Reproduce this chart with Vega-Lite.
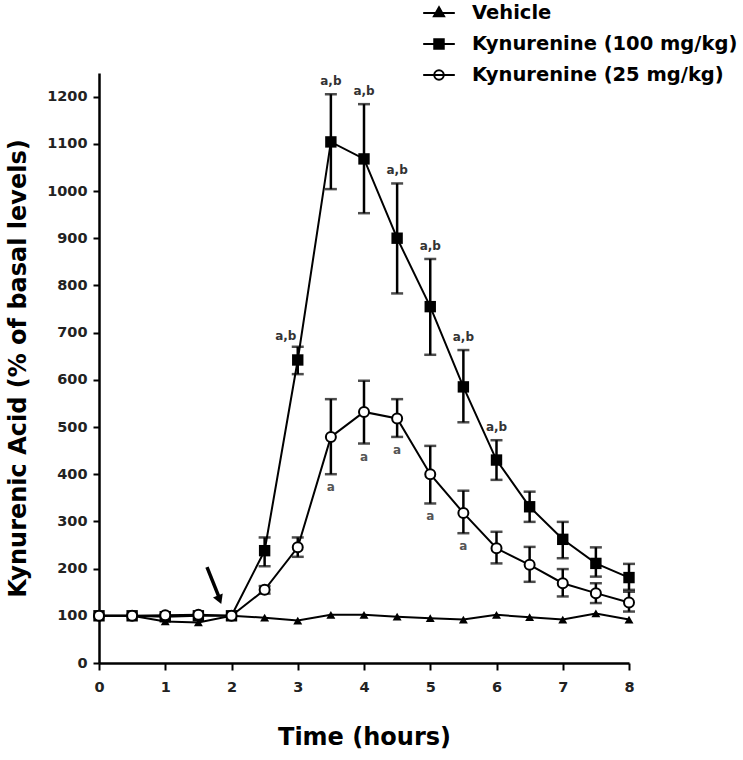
{
  "$schema": "https://vega.github.io/schema/vega-lite/v6.json",
  "width": 530,
  "height": 590,
  "autosize": {"type": "none"},
  "padding": {"left": 99, "top": 73, "right": 114, "bottom": 97},
  "background": "white",
  "config": {
    "view": {"stroke": null},
    "axis": {
      "grid": false,
      "domainColor": "black",
      "domainWidth": 2.5,
      "tickColor": "black",
      "tickWidth": 2,
      "labelFont": "DejaVu Sans",
      "labelFontWeight": "bold",
      "labelFontSize": 14.5,
      "labelColor": "#222",
      "titleFont": "DejaVu Sans",
      "titleFontWeight": "bold",
      "titleFontSize": 24,
      "titleColor": "black"
    },
    "legend": {
      "orient": "none", "legendX": 323, "legendY": -77, "title": null,
      "labelFont": "DejaVu Sans", "labelFontSize": 19.5, "labelFontWeight": "bold", "labelColor": "black",
      "labelLimit": 400,
      "symbolSize": 1000, "symbolStrokeWidth": 2, "symbolStrokeColor": "black",
      "rowPadding": 4, "labelOffset": 16, "padding": 0
    }
  },
  "datasets": {
    "main": [
      {"series": "Vehicle", "t": 0, "v": 100},
      {"series": "Vehicle", "t": 0.5, "v": 100},
      {"series": "Vehicle", "t": 1, "v": 88},
      {"series": "Vehicle", "t": 1.5, "v": 86},
      {"series": "Vehicle", "t": 2, "v": 100},
      {"series": "Vehicle", "t": 2.5, "v": 96},
      {"series": "Vehicle", "t": 3, "v": 90},
      {"series": "Vehicle", "t": 3.5, "v": 102},
      {"series": "Vehicle", "t": 4, "v": 102},
      {"series": "Vehicle", "t": 4.5, "v": 98},
      {"series": "Vehicle", "t": 5, "v": 95},
      {"series": "Vehicle", "t": 5.5, "v": 92},
      {"series": "Vehicle", "t": 6, "v": 102},
      {"series": "Vehicle", "t": 6.5, "v": 97},
      {"series": "Vehicle", "t": 7, "v": 92},
      {"series": "Vehicle", "t": 7.5, "v": 105},
      {"series": "Vehicle", "t": 8, "v": 92},
      {"series": "Kynurenine (100 mg/kg)", "t": 0, "v": 100},
      {"series": "Kynurenine (100 mg/kg)", "t": 0.5, "v": 100},
      {"series": "Kynurenine (100 mg/kg)", "t": 1, "v": 98},
      {"series": "Kynurenine (100 mg/kg)", "t": 1.5, "v": 100},
      {"series": "Kynurenine (100 mg/kg)", "t": 2, "v": 100},
      {"series": "Kynurenine (100 mg/kg)", "t": 2.5, "v": 238, "lo": 205, "hi": 266},
      {"series": "Kynurenine (100 mg/kg)", "t": 3, "v": 642, "lo": 612, "hi": 670, "sig": "a,b"},
      {"series": "Kynurenine (100 mg/kg)", "t": 3.5, "v": 1104, "lo": 1004, "hi": 1205, "sig": "a,b"},
      {"series": "Kynurenine (100 mg/kg)", "t": 4, "v": 1068, "lo": 953, "hi": 1184, "sig": "a,b"},
      {"series": "Kynurenine (100 mg/kg)", "t": 4.5, "v": 900, "lo": 783, "hi": 1016, "sig": "a,b"},
      {"series": "Kynurenine (100 mg/kg)", "t": 5, "v": 755, "lo": 653, "hi": 856, "sig": "a,b"},
      {"series": "Kynurenine (100 mg/kg)", "t": 5.5, "v": 585, "lo": 510, "hi": 663, "sig": "a,b"},
      {"series": "Kynurenine (100 mg/kg)", "t": 6, "v": 430, "lo": 388, "hi": 472, "sig": "a,b"},
      {"series": "Kynurenine (100 mg/kg)", "t": 6.5, "v": 331, "lo": 299, "hi": 363},
      {"series": "Kynurenine (100 mg/kg)", "t": 7, "v": 262, "lo": 222, "hi": 299},
      {"series": "Kynurenine (100 mg/kg)", "t": 7.5, "v": 211, "lo": 183, "hi": 245},
      {"series": "Kynurenine (100 mg/kg)", "t": 8, "v": 181, "lo": 155, "hi": 210},
      {"series": "Kynurenine (25 mg/kg)", "t": 0, "v": 100},
      {"series": "Kynurenine (25 mg/kg)", "t": 0.5, "v": 100},
      {"series": "Kynurenine (25 mg/kg)", "t": 1, "v": 101},
      {"series": "Kynurenine (25 mg/kg)", "t": 1.5, "v": 102},
      {"series": "Kynurenine (25 mg/kg)", "t": 2, "v": 100},
      {"series": "Kynurenine (25 mg/kg)", "t": 2.5, "v": 155, "lo": 147, "hi": 163},
      {"series": "Kynurenine (25 mg/kg)", "t": 3, "v": 245, "lo": 225, "hi": 266},
      {"series": "Kynurenine (25 mg/kg)", "t": 3.5, "v": 479, "lo": 400, "hi": 559, "sig": "a"},
      {"series": "Kynurenine (25 mg/kg)", "t": 4, "v": 532, "lo": 465, "hi": 598, "sig": "a"},
      {"series": "Kynurenine (25 mg/kg)", "t": 4.5, "v": 518, "lo": 479, "hi": 559, "sig": "a"},
      {"series": "Kynurenine (25 mg/kg)", "t": 5, "v": 400, "lo": 338, "hi": 460, "sig": "a"},
      {"series": "Kynurenine (25 mg/kg)", "t": 5.5, "v": 318, "lo": 275, "hi": 365, "sig": "a"},
      {"series": "Kynurenine (25 mg/kg)", "t": 6, "v": 243, "lo": 211, "hi": 278},
      {"series": "Kynurenine (25 mg/kg)", "t": 6.5, "v": 208, "lo": 172, "hi": 246},
      {"series": "Kynurenine (25 mg/kg)", "t": 7, "v": 169, "lo": 141, "hi": 199},
      {"series": "Kynurenine (25 mg/kg)", "t": 7.5, "v": 148, "lo": 127, "hi": 169},
      {"series": "Kynurenine (25 mg/kg)", "t": 8, "v": 128, "lo": 109, "hi": 151}
    ],
    "arrow": [
      {"t": 1.63, "v": 203, "t2": 1.81, "v2": 140, "tip_t": 1.82, "tip_v": 134}
    ]
  },
  "layer": [
    {
      "data": {"name": "main"},
      "transform": [{"filter": "isValid(datum.lo)"}],
      "mark": {"type": "rule", "color": "black", "strokeWidth": 2.5},
      "encoding": {
        "x": {
          "field": "t", "type": "quantitative",
          "scale": {"domain": [0, 8], "nice": false, "zero": false},
          "axis": {
            "title": "Time (hours)",
            "format": "d",
            "values": [0, 0.5, 1, 1.5, 2, 2.5, 3, 3.5, 4, 4.5, 5, 5.5, 6, 6.5, 7, 7.5, 8],
            "labelExpr": "datum.value % 1 === 0 ? datum.label : ''",
            "tickSize": {"condition": {"test": "datum.value % 1 === 0", "value": 7}, "value": 4},
            "labelPadding": 10,
            "labelFlush": false,
            "labelOverlap": false,
            "titlePadding": 32
          }
        },
        "y": {
          "field": "lo", "type": "quantitative",
          "scale": {"domain": [0, 1250], "nice": false},
          "axis": {
            "title": "Kynurenic Acid (% of basal levels)",
            "format": "d",
            "values": [0, 50, 100, 150, 200, 250, 300, 350, 400, 450, 500, 550, 600, 650, 700, 750, 800, 850, 900, 950, 1000, 1050, 1100, 1150, 1200],
            "labelExpr": "datum.value % 100 === 0 ? datum.label : ''",
            "tickSize": {"condition": {"test": "datum.value % 100 === 0", "value": 6}, "value": 4},
            "labelPadding": 6,
            "labelOverlap": false,
            "titlePadding": 16
          }
        },
        "y2": {"field": "hi"}
      }
    },
    {
      "data": {"name": "main"},
      "transform": [{"filter": "isValid(datum.lo)"}],
      "mark": {"type": "tick", "orient": "horizontal", "color": "black", "size": 12, "thickness": 2.5},
      "encoding": {
        "x": {"field": "t", "type": "quantitative"},
        "y": {"field": "lo", "type": "quantitative"}
      }
    },
    {
      "data": {"name": "main"},
      "transform": [{"filter": "isValid(datum.hi)"}],
      "mark": {"type": "tick", "orient": "horizontal", "color": "black", "size": 12, "thickness": 2.5},
      "encoding": {
        "x": {"field": "t", "type": "quantitative"},
        "y": {"field": "hi", "type": "quantitative"}
      }
    },
    {
      "data": {"name": "main"},
      "mark": {"type": "line", "color": "black", "strokeWidth": 2},
      "encoding": {
        "x": {"field": "t", "type": "quantitative"},
        "y": {"field": "v", "type": "quantitative"},
        "detail": {"field": "series", "type": "nominal"}
      }
    },
    {
      "data": {"name": "main"},
      "transform": [{"filter": "datum.series === 'Vehicle'"}],
      "mark": {"type": "point", "shape": "triangle-up", "filled": true, "color": "black", "opacity": 1, "size": 80},
      "encoding": {
        "x": {"field": "t", "type": "quantitative"},
        "y": {"field": "v", "type": "quantitative"}
      }
    },
    {
      "data": {"name": "main"},
      "transform": [{"filter": "datum.series === 'Kynurenine (100 mg/kg)'"}],
      "mark": {"type": "point", "shape": "square", "filled": true, "color": "black", "opacity": 1, "size": 130},
      "encoding": {
        "x": {"field": "t", "type": "quantitative"},
        "y": {"field": "v", "type": "quantitative"}
      }
    },
    {
      "data": {"name": "main"},
      "transform": [{"filter": "datum.series === 'Kynurenine (25 mg/kg)'"}],
      "mark": {"type": "point", "shape": "circle", "filled": true, "fill": "white", "stroke": "black", "strokeWidth": 2, "opacity": 1, "size": 100},
      "encoding": {
        "x": {"field": "t", "type": "quantitative"},
        "y": {"field": "v", "type": "quantitative"}
      }
    },
    {
      "data": {"name": "main"},
      "transform": [{"filter": "datum.sig === 'a,b' && datum.t !== 3"}],
      "mark": {"type": "text", "font": "DejaVu Sans", "fontWeight": "bold", "fontSize": 12, "color": "#333", "dy": -13, "baseline": "middle"},
      "encoding": {
        "x": {"field": "t", "type": "quantitative"},
        "y": {"field": "hi", "type": "quantitative"},
        "text": {"field": "sig"}
      }
    },
    {
      "data": {"name": "main"},
      "transform": [{"filter": "datum.sig === 'a,b' && datum.t === 3"}],
      "mark": {"type": "text", "font": "DejaVu Sans", "fontWeight": "bold", "fontSize": 12, "color": "#333", "dx": -12, "dy": -11, "baseline": "middle"},
      "encoding": {
        "x": {"field": "t", "type": "quantitative"},
        "y": {"field": "hi", "type": "quantitative"},
        "text": {"field": "sig"}
      }
    },
    {
      "data": {"name": "main"},
      "transform": [{"filter": "datum.sig === 'a'"}],
      "mark": {"type": "text", "font": "DejaVu Sans", "fontWeight": "bold", "fontSize": 12, "color": "#555", "dy": 13, "baseline": "middle"},
      "encoding": {
        "x": {"field": "t", "type": "quantitative"},
        "y": {"field": "lo", "type": "quantitative"},
        "text": {"field": "sig"}
      }
    },
    {
      "data": {"name": "arrow"},
      "mark": {"type": "rule", "color": "black", "strokeWidth": 3.5},
      "encoding": {
        "x": {"field": "t", "type": "quantitative"},
        "y": {"field": "v", "type": "quantitative"},
        "x2": {"field": "t2"},
        "y2": {"field": "v2"}
      }
    },
    {
      "data": {"name": "arrow"},
      "mark": {"type": "point", "shape": "triangle-down", "filled": true, "color": "black", "opacity": 1, "size": 110, "angle": 338},
      "encoding": {
        "x": {"field": "tip_t", "type": "quantitative"},
        "y": {"field": "tip_v", "type": "quantitative"}
      }
    },
    {
      "data": {"name": "main"},
      "transform": [{"filter": "false"}],
      "mark": {"type": "point", "filled": true, "strokeWidth": 2, "opacity": 1},
      "encoding": {
        "shape": {
          "field": "series", "type": "nominal",
          "scale": {
            "domain": ["Vehicle", "Kynurenine (100 mg/kg)", "Kynurenine (25 mg/kg)"],
            "range": [
              "M-1,0H1M0,-0.36L0.32,0.2L-0.32,0.2Z",
              "M-1,0H1M-0.3,-0.3H0.3V0.3H-0.3Z",
              "M-1,0H1M-0.3,0A0.3,0.3 0 1,0 0.3,0A0.3,0.3 0 1,0 -0.3,0Z"
            ]
          }
        },
        "fill": {
          "field": "series", "type": "nominal",
          "scale": {
            "domain": ["Vehicle", "Kynurenine (100 mg/kg)", "Kynurenine (25 mg/kg)"],
            "range": ["black", "black", "white"]
          }
        },
        "stroke": {
          "field": "series", "type": "nominal",
          "scale": {
            "domain": ["Vehicle", "Kynurenine (100 mg/kg)", "Kynurenine (25 mg/kg)"],
            "range": ["black", "black", "black"]
          }
        }
      }
    }
  ]
}
